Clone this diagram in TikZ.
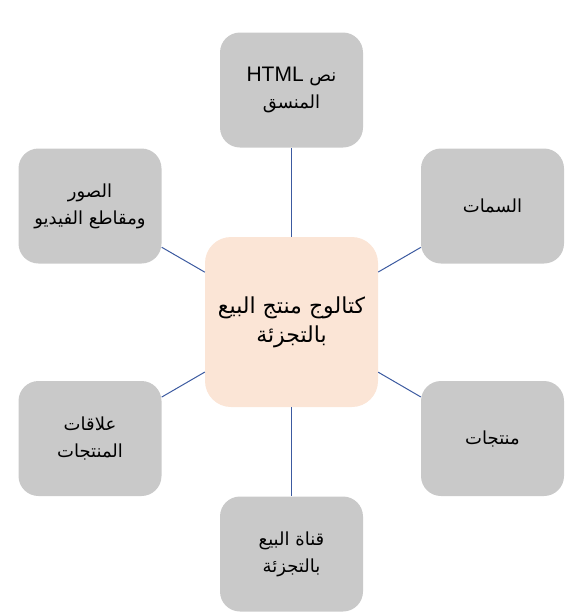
\documentclass[tikz,border=0pt]{standalone}
\usepackage{fontspec}
\setmainfont{Liberation Sans}
\newfontfamily\arabicfont[Script=Arabic]{DejaVu Sans}
\newfontfamily\latinfont{Liberation Sans}
\TeXXeTstate=1
\definecolor{boxgray}{RGB}{201,201,201}
\definecolor{peach}{RGB}{251,229,214}
\definecolor{linkblue}{RGB}{60,90,160}
\tikzset{
  outerbox/.style={draw=none, fill=boxgray, rounded corners=20pt, minimum width=143pt, minimum height=115pt, align=center, font=\arabicfont\fontsize{18}{27}\selectfont, inner sep=0pt},
  centerbox/.style={draw=none, fill=peach, rounded corners=26pt, minimum width=173pt, minimum height=170pt, align=center, font=\arabicfont\fontsize{22}{29}\selectfont, inner sep=0pt},
  link/.style={draw=linkblue, line width=1pt}
}
\begin{document}
\begin{tikzpicture}[x=1pt,y=-1pt]
\useasboundingbox (0,0) rectangle (583,614);
\node[centerbox] (c) at (291.5,322) {\beginR كتالوج منتج البيع\endR\\\beginR بالتجزئة\endR};
\node[outerbox] (t) at (291.5,90) {\beginR نص \beginL{\latinfont\fontsize{21}{27}\selectfont HTML}\endL\endR\\\beginR المنسق\endR};
\node[outerbox] (tl) at (90,206) {\beginR الصور\endR\\\beginR ومقاطع الفيديو\endR};
\node[outerbox] (tr) at (492.5,206) {\beginR السمات\endR};
\node[outerbox] (bl) at (90,438.5) {\beginR علاقات\endR\\\beginR المنتجات\endR};
\node[outerbox] (br) at (492.5,438.5) {\beginR منتجات\endR};
\node[outerbox] (b) at (291.5,554) {\beginR قناة البيع\endR\\\beginR بالتجزئة\endR};
\draw[link] (c) -- (t);
\draw[link] (c) -- (tl);
\draw[link] (c) -- (tr);
\draw[link] (c) -- (bl);
\draw[link] (c) -- (br);
\draw[link] (c) -- (b);
\end{tikzpicture}
\end{document}
